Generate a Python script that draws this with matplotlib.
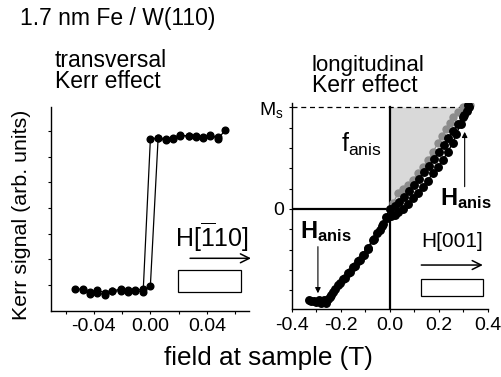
import matplotlib
matplotlib.use("Agg")
import matplotlib.pyplot as plt
from matplotlib.patches import Rectangle
from matplotlib.ticker import FixedLocator, NullFormatter
import numpy as np

plt.rcParams["font.family"] = ["Liberation Sans", "DejaVu Sans"]
plt.rcParams["mathtext.fontset"] = "custom"
plt.rcParams["mathtext.rm"] = "Liberation Sans"
plt.rcParams["mathtext.it"] = "Liberation Sans:italic"
plt.rcParams["mathtext.bf"] = "Liberation Sans:bold"

# ── Transversal loop (field in T, Kerr signal in arb. units) ──────────────────
trans_up_x = [-0.053, -0.048, -0.043, -0.038, -0.032, -0.027, -0.021, -0.016, -0.011, -0.005,
              0.000, 0.0055, 0.011, 0.016, 0.021, 0.027, 0.032, 0.037, 0.042, 0.048, 0.053]
trans_up_y = [0.86, 0.83, 0.72, 0.80, 0.70, 0.75, 0.78, 0.82, 0.80, 0.72,
              0.96, 6.73, 6.64, 6.73, 6.84, 6.80, 6.80, 6.78, 6.84, 6.70, 7.03]
trans_dn_x = [0.048, 0.042, 0.037, 0.032, 0.027, 0.021, 0.016, 0.011, 0.0055, 0.000,
              -0.005, -0.011, -0.016, -0.021, -0.027, -0.032, -0.038, -0.043, -0.048]
trans_dn_y = [6.76, 6.80, 6.73, 6.78, 6.82, 6.80, 6.70, 6.67, 6.72, 6.67,
              0.85, 0.78, 0.72, 0.85, 0.76, 0.62, 0.70, 0.66, 0.80]

# ── Longitudinal loop (normalised to Ms = 1) ──────────────────────────────────
long_dn_x = [0.32, 0.305, 0.29, 0.272, 0.257, 0.237, 0.216, 0.196, 0.176, 0.155, 0.135, 0.114,
             0.094, 0.073, 0.053, 0.035, 0.02, 0.005, -0.013, -0.027, -0.041, -0.065, -0.089,
             -0.106, -0.122, -0.143, -0.163, -0.184, -0.204, -0.222, -0.238, -0.253, -0.27,
             -0.29, -0.31, -0.33]
long_dn_y = [1.02, 0.93, 0.84, 0.74, 0.65, 0.56, 0.48, 0.41, 0.35, 0.28, 0.22, 0.16,
             0.11, 0.05, 0.00, -0.03, -0.06, -0.07, -0.09, -0.15, -0.21, -0.30, -0.39,
             -0.45, -0.50, -0.56, -0.62, -0.68, -0.73, -0.79, -0.85, -0.89, -0.90,
             -0.90, -0.91, -0.90]
long_up_x = [-0.32, -0.30, -0.28, -0.26, -0.245, -0.23, -0.21, -0.19, -0.17, -0.15, -0.13, -0.11,
             -0.09, -0.07, -0.05, -0.03, -0.015, 0.0, 0.02, 0.04, 0.06, 0.08, 0.10, 0.12, 0.14,
             0.16, 0.18, 0.20, 0.22, 0.24, 0.26, 0.28, 0.30, 0.315, 0.325]
long_up_y = [-0.91, -0.92, -0.93, -0.93, -0.87, -0.82, -0.75, -0.69, -0.63, -0.57, -0.51, -0.45,
             -0.38, -0.31, -0.24, -0.17, -0.08, 0.00, 0.03, 0.07, 0.12, 0.18, 0.24, 0.30, 0.36,
             0.42, 0.49, 0.56, 0.63, 0.70, 0.77, 0.84, 0.91, 0.97, 1.00]
# grey: hard-axis curve bounding the anisotropy energy area
grey_x = [0.0, 0.014, 0.034, 0.055, 0.075, 0.095, 0.116, 0.136, 0.156, 0.177, 0.197, 0.214,
          0.231, 0.245, 0.259, 0.28, 0.30, 0.315, 0.327]
grey_y = [0.0, 0.056, 0.155, 0.20, 0.236, 0.29, 0.35, 0.41, 0.48, 0.56, 0.65, 0.72,
          0.79, 0.85, 0.91, 0.96, 1.0, 1.01, 1.02]
MS = 1.0

left_xticks = [-0.04, 0.00, 0.04]
left_xtick_labels = ["-0.04", "0.00", "0.04"]
right_xticks = [-0.4, -0.2, 0.0, 0.2, 0.4]
right_xtick_labels = ["-0.4", "-0.2", "0.0", "0.2", "0.4"]

W, H = 502, 377
fig = plt.figure(figsize=(W / 100, H / 100), dpi=100)


def fx(px):
    return px / W


def fy(py):
    return 1 - py / H


def style_axes(ax):
    for side in ("top", "right"):
        ax.spines[side].set_visible(False)
    for side in ("left", "bottom"):
        ax.spines[side].set_linewidth(1.0)
    ax.tick_params(which="both", direction="out", length=2.5, width=0.8,
                   labelsize=14, pad=3, color="black")


# ── Left panel ─────────────────────────────────────────────────────────────────
axl = fig.add_axes([fx(51), fy(310.7), fx(249.3) - fx(51), fy(107) - fy(310.7)])
style_axes(axl)
axl.set_xlim(-0.0703, 0.0700)
axl.set_ylim(0, 7.93)
axl.xaxis.set_major_locator(FixedLocator(left_xticks))
axl.set_xticklabels(left_xtick_labels)
axl.xaxis.set_minor_locator(FixedLocator([-0.06, -0.02, 0.02, 0.06]))
axl.yaxis.set_major_locator(FixedLocator([1, 2, 3, 4, 5, 6, 7]))
axl.yaxis.set_major_formatter(NullFormatter())

for xs, ys in [(trans_up_x, trans_up_y), (trans_dn_x, trans_dn_y)]:
    axl.plot(xs, ys, color="black", lw=0.9, marker="o", ms=4.8, mfc="black", mec="black")

axl.text(0.0175, 2.49, r"H[$\mathrm{\overline{1}}$10]", fontsize=18, ha="left", va="baseline")
axl.annotate("", xy=(0.0712, 2.04), xytext=(0.0281, 2.04), annotation_clip=False,
             arrowprops=dict(arrowstyle="->", lw=1.1, mutation_scale=16, color="black",
                             shrinkA=0, shrinkB=0))
axl.add_patch(Rectangle((0.0199, 0.74), 0.0442, 0.84, facecolor="white",
                        edgecolor="black", lw=0.9, clip_on=False, zorder=4))

# ── Right panel ────────────────────────────────────────────────────────────────
axr = fig.add_axes([fx(291.7), fy(309.3), fx(487.7) - fx(291.7), fy(103) - fy(309.3)])
style_axes(axr)
axr.set_xlim(-0.4, 0.4)
axr.set_ylim(-0.988, 1.044)
axr.xaxis.set_major_locator(FixedLocator(right_xticks))
axr.set_xticklabels(right_xtick_labels)
axr.xaxis.set_minor_locator(FixedLocator([-0.3, -0.1, 0.1, 0.3]))
axr.yaxis.set_major_locator(FixedLocator([0.0, MS]))
axr.set_yticklabels(["0", r"M$_\mathrm{s}$"])
axr.yaxis.set_minor_locator(FixedLocator([-0.8, -0.6, -0.4, -0.2, 0.2, 0.4, 0.6, 0.8]))

# anisotropy energy area between the vertical axis and the grey hard-axis curve
gx = np.asarray(grey_x)
gy = np.minimum(np.asarray(grey_y), MS)
axr.fill(np.r_[gx, 0.0], np.r_[gy, MS], facecolor="#d9d9d9", edgecolor="none", zorder=1)

axr.plot([-0.4, 0.32], [MS, MS], color="black", lw=0.9, ls=(0, (4, 3)), zorder=2)
axr.plot([-0.4, 0.0], [0, 0], color="black", lw=1.6, zorder=2)
axr.plot([0, 0], [-0.988, MS], color="black", lw=1.6, zorder=2)

axr.plot(grey_x, grey_y, color="#8c8c8c", lw=0.9, marker="o", ms=5, mfc="#8c8c8c",
         mec="#8c8c8c", zorder=3)
for xs, ys in [(long_dn_x, long_dn_y), (long_up_x, long_up_y)]:
    axr.plot(xs, ys, color="black", lw=1.0, marker="o", ms=5.4, mfc="black", mec="black", zorder=4)

axr.text(-0.20, 0.565, r"f$_\mathrm{anis}$", fontsize=18, ha="left", va="baseline")
axr.text(-0.367, -0.289, r"$\mathbf{H_{anis}}$", fontsize=17, ha="left", va="baseline")
axr.text(0.204, 0.039, r"$\mathbf{H_{anis}}$", fontsize=17, ha="left", va="baseline")
axr.annotate("", xy=(-0.293, -0.83), xytext=(-0.293, -0.371),
             arrowprops=dict(arrowstyle="-|>", lw=0.8, mutation_scale=8, color="black",
                             shrinkA=0, shrinkB=0))
axr.annotate("", xy=(0.306, 0.76), xytext=(0.306, 0.22),
             arrowprops=dict(arrowstyle="-|>", lw=0.8, mutation_scale=8, color="black",
                             shrinkA=0, shrinkB=0))

axr.text(0.129, -0.371, "H[001]", fontsize=15, ha="left", va="baseline")
axr.annotate("", xy=(0.38, -0.552), xytext=(0.129, -0.552), annotation_clip=False,
             arrowprops=dict(arrowstyle="->", lw=1.1, mutation_scale=16, color="black",
                             shrinkA=0, shrinkB=0))
axr.add_patch(Rectangle((0.129, -0.857), 0.252, 0.164, facecolor="white",
                        edgecolor="black", lw=0.9, clip_on=False, zorder=6))

# ── Figure texts ───────────────────────────────────────────────────────────────
fig.text(fx(20), fy(24.5), "1.7 nm Fe / W(110)", fontsize=16.5, ha="left", va="baseline")
fig.text(fx(55), fy(66.7), "transversal", fontsize=16.5, ha="left", va="baseline")
fig.text(fx(55), fy(88.3), "Kerr effect", fontsize=16.5, ha="left", va="baseline")
fig.text(fx(312), fy(70.5), "longitudinal", fontsize=16, ha="left", va="baseline")
fig.text(fx(312), fy(92.5), "Kerr effect", fontsize=16.5, ha="left", va="baseline")
fig.text(fx(22), fy(215), "Kerr signal (arb. units)", fontsize=15.4, rotation=90,
         ha="center", va="center")
fig.text(fx(268), fy(365), "field at sample (T)", fontsize=18.8, ha="center", va="baseline")

fig.savefig("out.png", dpi=100)
